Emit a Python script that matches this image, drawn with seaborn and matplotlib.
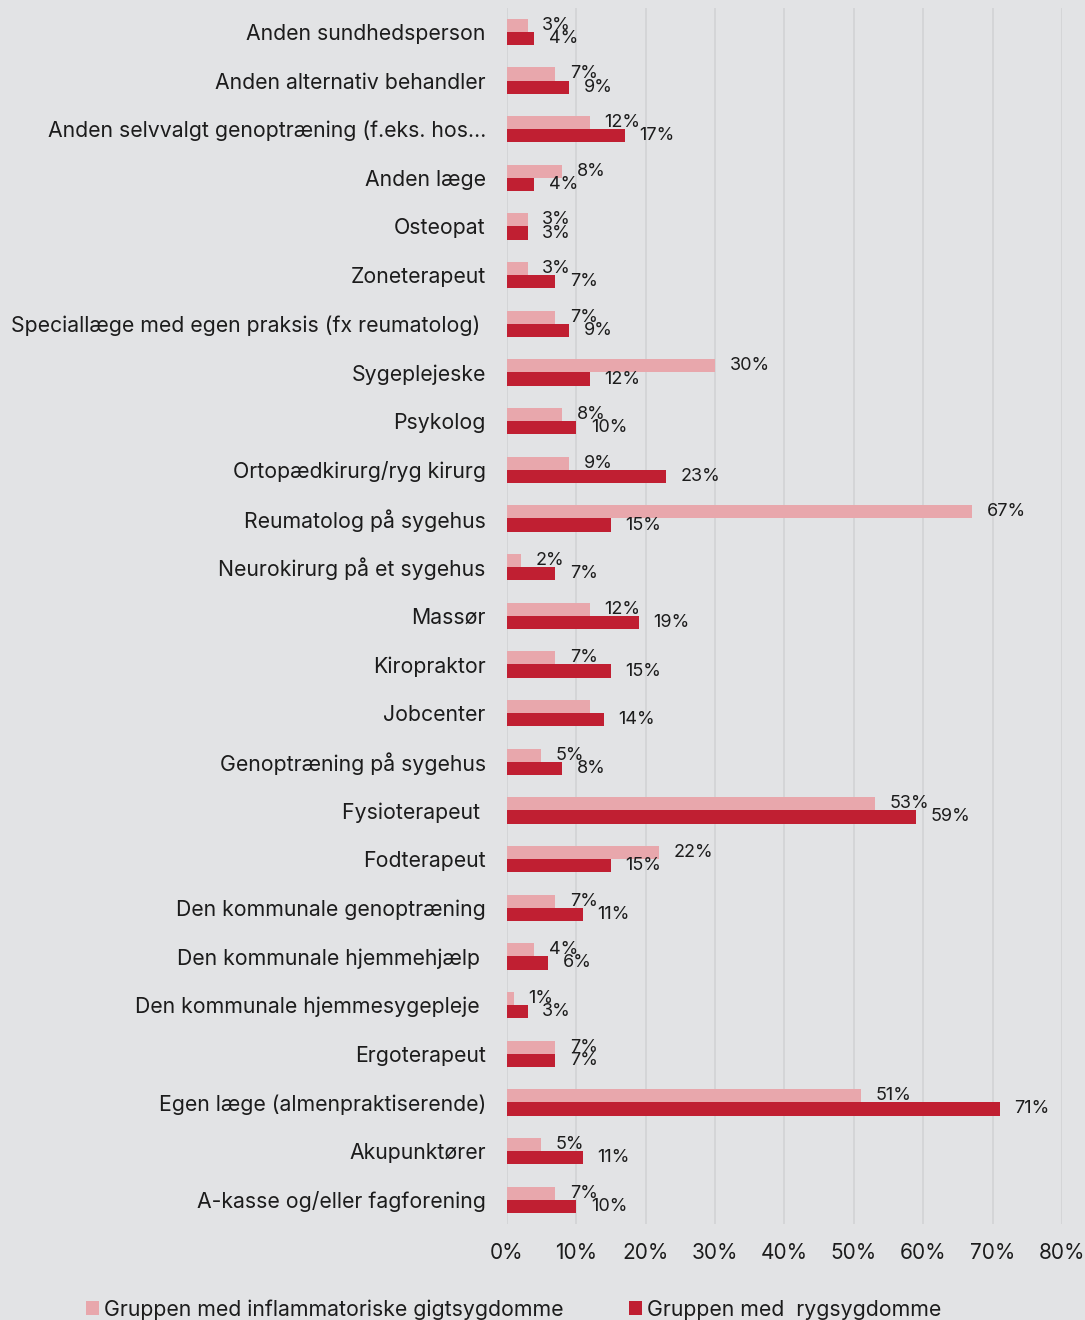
import pandas as pd
import seaborn as sns
import matplotlib.pyplot as plt
from matplotlib.patches import Patch
from matplotlib.ticker import FuncFormatter

# Categories, top to bottom
categories = [
    "Anden sundhedsperson",
    "Anden alternativ behandler",
    "Anden selvvalgt genoptræning (f.eks. hos…",
    "Anden læge",
    "Osteopat",
    "Zoneterapeut",
    "Speciallæge med egen praksis (fx reumatolog) ",
    "Sygeplejeske",
    "Psykolog",
    "Ortopædkirurg/ryg kirurg",
    "Reumatolog på sygehus",
    "Neurokirurg på et sygehus",
    "Massør",
    "Kiropraktor",
    "Jobcenter",
    "Genoptræning på sygehus",
    "Fysioterapeut ",
    "Fodterapeut",
    "Den kommunale genoptræning",
    "Den kommunale hjemmehjælp ",
    "Den kommunale hjemmesygepleje ",
    "Ergoterapeut",
    "Egen læge (almenpraktiserende)",
    "Akupunktører",
    "A-kasse og/eller fagforening",
]

# Share of respondents (%)
gigt = [3, 7, 12, 8, 3, 3, 7, 30, 8, 9, 67, 2, 12, 7, 12, 5, 53, 22, 7, 4, 1, 7, 51, 5, 7]
ryg = [4, 9, 17, 4, 3, 7, 9, 12, 10, 23, 15, 7, 19, 15, 14, 8, 59, 15, 11, 6, 3, 7, 71, 11, 10]

# Which value labels are printed (the Jobcenter label is not shown for the first group)
gigt_shown = [True] * len(categories)
gigt_shown[categories.index("Jobcenter")] = False

series = ["Gruppen med inflammatoriske gigtsygdomme", "Gruppen med  rygsygdomme"]
x_ticks = [0, 10, 20, 30, 40, 50, 60, 70, 80]

PINK = "#e8a7ac"
RED = "#c01f32"
BG = "#e2e3e5"
GRID = "#d3d4d6"
TEXT = "#1c1c1c"

df = pd.DataFrame({
    "Kategori": categories * 2,
    "Andel": gigt + ryg,
    "Gruppe": [series[0]] * len(categories) + [series[1]] * len(categories),
})

sns.set_theme(style="whitegrid")
plt.rcParams["font.family"] = ["Inter", "DejaVu Sans"]

fig = plt.figure(figsize=(10.85, 13.2), dpi=100, facecolor=BG)
ax = fig.add_axes([0.467, 0.0727, 0.512, 0.9216])
ax.set_facecolor(BG)

sns.barplot(
    data=df, y="Kategori", x="Andel", hue="Gruppe", order=categories,
    hue_order=series, palette=[PINK, RED], saturation=1, width=0.54,
    orient="h", legend=False, ax=ax, errorbar=None, linewidth=0,
)

for container, vals, shown in zip(ax.containers, [gigt, ryg], [gigt_shown, [True] * len(ryg)]):
    labels = [f"{v}%" if s else "" for v, s in zip(vals, shown)]
    ax.bar_label(container, labels=labels, padding=10.5, fontsize=13, color=TEXT)

ax.set_xlim(0, 80)
ax.set_xticks(x_ticks)
ax.xaxis.set_major_formatter(FuncFormatter(lambda v, p: f"{v:.0f}%"))
ax.grid(axis="x", color=GRID, linewidth=1.3)
ax.grid(axis="y", visible=False)
ax.set_axisbelow(True)
for s in ax.spines.values():
    s.set_visible(False)
ax.set_xlabel("")
ax.set_ylabel("")
ax.tick_params(axis="y", length=0, pad=15, labelsize=15.3, labelcolor=TEXT)
ax.tick_params(axis="x", length=0, pad=14, labelsize=15, labelcolor=TEXT)

handles = [Patch(facecolor=PINK, edgecolor="none"), Patch(facecolor=RED, edgecolor="none")]
fig.legend(
    handles, series, loc="center left", bbox_to_anchor=(0.062, 0.008), ncol=2,
    frameon=False, fontsize=15.3, handlelength=0.6, handleheight=0.6,
    handletextpad=0.25, columnspacing=3.05, labelcolor=TEXT,
)

fig.savefig("out.png", dpi=100, facecolor=BG)
